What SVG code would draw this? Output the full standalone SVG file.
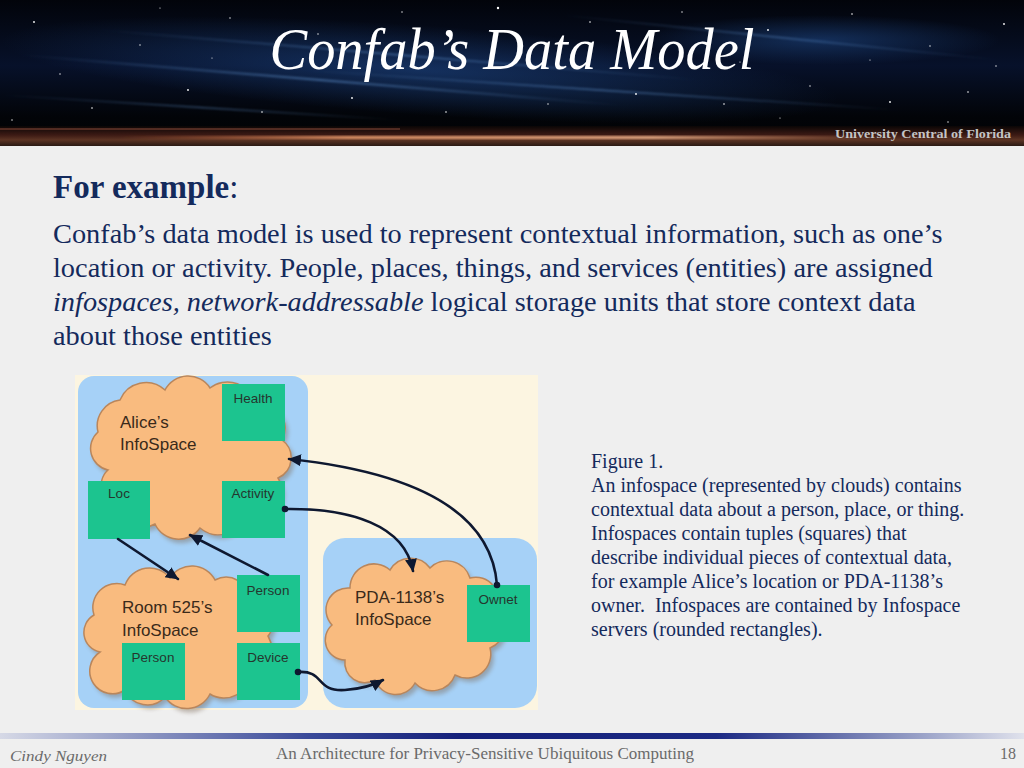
<svg xmlns="http://www.w3.org/2000/svg" width="1024" height="768" viewBox="0 0 1024 768">
<defs>
  <style>
    .body{font-family:"Liberation Serif","Times New Roman",serif;fill:#142a5c;}
    .para{font-size:28.35px;}
    .cap{font-family:"Liberation Serif","Times New Roman",serif;font-size:20px;fill:#142a5c;}
    .lbl{font-family:"Liberation Sans",Arial,sans-serif;font-size:13.5px;fill:#25362e;text-anchor:middle;}
    .cl{font-family:"Liberation Sans",Arial,sans-serif;font-size:17px;fill:#3a2a1a;}
    .cloud{fill:#f9bb7f;stroke:#b9865c;stroke-width:1.5;}
    .cshadow{fill:#7d6a5a;opacity:0.45;}
    .tuple{fill:#1cc48f;}
    .server{fill:#a6d1f7;}
    .conn{fill:none;stroke:#0e1830;stroke-width:2.6;stroke-linecap:round;}
    .star{fill:#ffffff;}
    .foot{font-family:"Liberation Serif","Times New Roman",serif;fill:#6a6a6a;}
  </style>
  <linearGradient id="sky" x1="0" y1="0" x2="0" y2="1">
    <stop offset="0" stop-color="#02040a"/>
    <stop offset="0.45" stop-color="#07112a"/>
    <stop offset="0.8" stop-color="#020408"/>
    <stop offset="1" stop-color="#010204"/>
  </linearGradient>
  <radialGradient id="haze" cx="0.5" cy="0.5" r="0.5">
    <stop offset="0" stop-color="#1f4a8a" stop-opacity="0.55"/>
    <stop offset="1" stop-color="#1f4a8a" stop-opacity="0"/>
  </radialGradient>
  <linearGradient id="streak" x1="0" y1="0" x2="1" y2="0">
    <stop offset="0" stop-color="#6aa0e0" stop-opacity="0"/>
    <stop offset="0.5" stop-color="#6aa0e0" stop-opacity="0.5"/>
    <stop offset="1" stop-color="#6aa0e0" stop-opacity="0"/>
  </linearGradient>
  <linearGradient id="band" x1="0" y1="0" x2="0" y2="1">
    <stop offset="0" stop-color="#0a0606"/>
    <stop offset="0.45" stop-color="#3c1a14"/>
    <stop offset="0.7" stop-color="#5c3424"/>
    <stop offset="1" stop-color="#2a1a14"/>
  </linearGradient>
  <linearGradient id="glow" x1="0" y1="0" x2="1" y2="0">
    <stop offset="0" stop-color="#e07040" stop-opacity="0"/>
    <stop offset="0.3" stop-color="#f0a070" stop-opacity="0.9"/>
    <stop offset="0.7" stop-color="#f6b890" stop-opacity="0.9"/>
    <stop offset="1" stop-color="#f0a070" stop-opacity="0"/>
  </linearGradient>
  <linearGradient id="footbar" x1="0" y1="0" x2="1" y2="0">
    <stop offset="0" stop-color="#d6d9e6"/>
    <stop offset="0.3" stop-color="#3a4a9a"/>
    <stop offset="0.45" stop-color="#14207a"/>
    <stop offset="0.7" stop-color="#1c2a84"/>
    <stop offset="0.9" stop-color="#9aa2c8"/>
    <stop offset="1" stop-color="#e0e2ec"/>
  </linearGradient>
  <filter id="blur2" x="-20%" y="-20%" width="140%" height="140%"><feGaussianBlur stdDeviation="2"/></filter>
  <filter id="blur1"><feGaussianBlur stdDeviation="0.8"/></filter>
  <marker id="arrow" markerUnits="userSpaceOnUse" markerWidth="14" markerHeight="14" refX="12" refY="6" orient="auto">
    <path d="M0,0 L13,6 L0,12 Z" fill="#0e1830"/>
  </marker>
  <marker id="dot" markerUnits="userSpaceOnUse" markerWidth="8" markerHeight="8" refX="4" refY="4" orient="auto">
    <circle cx="4" cy="4" r="3.3" fill="#0e1830"/>
  </marker>
</defs>

<!-- slide background -->
<rect x="0" y="0" width="1024" height="768" fill="#efefef"/>

<!-- header -->
<g id="header">
  <rect x="0" y="0" width="1024" height="146" fill="url(#sky)"/>
  <ellipse cx="420" cy="70" rx="420" ry="45" fill="url(#haze)" transform="rotate(4 420 70)"/>
  <ellipse cx="820" cy="40" rx="180" ry="25" fill="url(#haze)"/>
  <g filter="url(#blur1)">
    <line x1="20" y1="55" x2="620" y2="105" stroke="url(#streak)" stroke-width="2"/>
    <line x1="100" y1="30" x2="700" y2="80" stroke="url(#streak)" stroke-width="1.5"/>
    <line x1="300" y1="70" x2="900" y2="110" stroke="url(#streak)" stroke-width="1.5"/>
    <line x1="0" y1="95" x2="400" y2="120" stroke="url(#streak)" stroke-width="1.2"/>
    <line x1="560" y1="15" x2="1000" y2="60" stroke="url(#streak)" stroke-width="1.2"/>
  </g>
  <g class="star">
    <circle cx="34" cy="22" r="0.9"/><circle cx="92" cy="108" r="0.8"/><circle cx="140" cy="45" r="0.7"/>
    <circle cx="188" cy="90" r="0.9"/><circle cx="230" cy="18" r="0.7"/><circle cx="262" cy="112" r="0.8"/>
    <circle cx="318" cy="34" r="0.7"/><circle cx="352" cy="98" r="0.9"/><circle cx="402" cy="12" r="0.7"/>
    <circle cx="446" cy="112" r="0.8"/><circle cx="498" cy="8" r="1.2"/><circle cx="548" cy="104" r="0.7"/>
    <circle cx="590" cy="22" r="0.8"/><circle cx="636" cy="94" r="0.9"/><circle cx="682" cy="12" r="0.7"/>
    <circle cx="724" cy="104" r="0.8"/><circle cx="768" cy="30" r="0.9"/><circle cx="810" cy="86" r="0.7"/>
    <circle cx="852" cy="14" r="0.8"/><circle cx="890" cy="102" r="0.9"/><circle cx="930" cy="46" r="0.7"/>
    <circle cx="968" cy="92" r="0.8"/><circle cx="1004" cy="24" r="0.9"/><circle cx="996" cy="66" r="0.7"/>
    <circle cx="60" cy="74" r="0.7"/><circle cx="116" cy="132" r="0.6"/><circle cx="212" cy="58" r="0.6"/>
    <circle cx="780" cy="118" r="0.6"/><circle cx="948" cy="122" r="0.7"/><circle cx="870" cy="60" r="0.6"/>
    <circle cx="12" cy="120" r="0.7"/><circle cx="160" cy="8" r="0.6"/><circle cx="740" cy="62" r="0.6"/>
  </g>
  <rect x="0" y="126" width="1024" height="20" fill="url(#band)"/>
  <rect x="120" y="136" width="760" height="3" fill="url(#glow)" filter="url(#blur1)"/>
  <rect x="0" y="128" width="400" height="2" fill="#8a4a3a" opacity="0.5"/>
  <text x="512" y="69" text-anchor="middle" font-family="'Liberation Serif','Times New Roman',serif" font-style="italic" font-size="60" fill="#ffffff" textLength="485" lengthAdjust="spacingAndGlyphs">Confab’s Data Model</text>
  <text x="1011" y="138" text-anchor="end" font-family="'Liberation Serif','Times New Roman',serif" font-weight="bold" font-size="13" fill="#c4c4c4" textLength="176" lengthAdjust="spacingAndGlyphs">University Central of Florida</text>
</g>

<!-- body text -->
<g id="bodytext">
  <text x="53" y="198" class="body" font-size="33"><tspan font-weight="bold">For example</tspan>:</text>
  <text x="53" y="243" class="body para">Confab’s data model is used to represent contextual information, such as one’s</text>
  <text x="53" y="277" class="body para">location or activity. People, places, things, and services (entities) are assigned</text>
  <text x="53" y="311" class="body para"><tspan font-style="italic">infospaces, network-addressable</tspan> logical storage units that store context data</text>
  <text x="53" y="345" class="body para">about those entities</text>
</g>

<!-- figure background -->
<rect x="75" y="375" width="463" height="335" fill="#fcf5e1"/>

<!-- servers -->
<g id="server-left"><rect x="78" y="376" width="230" height="332" rx="16" class="server"/></g>
<g id="server-right"><rect x="323" y="538" width="214" height="170" rx="22" class="server"/></g>

<!-- Alice's InfoSpace -->
<g id="alice-infospace">
  <path class="cshadow" filter="url(#blur2)" transform="translate(3,4)" d="M108 470 A22 22 0 0 1 98 432 A26 26 0 0 1 120 400 A28 28 0 0 1 165 390 A26 26 0 0 1 210 388 A28 28 0 0 1 255 405 A24 24 0 0 1 282 440 A22 22 0 0 1 278 478 A26 26 0 0 1 245 515 A28 28 0 0 1 200 528 A26 26 0 0 1 155 524 A22 22 0 0 1 122 505 A20 20 0 0 1 108 470 Z"/>
  <path class="cloud" d="M108 470 A22 22 0 0 1 98 432 A26 26 0 0 1 120 400 A28 28 0 0 1 165 390 A26 26 0 0 1 210 388 A28 28 0 0 1 255 405 A24 24 0 0 1 282 440 A22 22 0 0 1 278 478 A26 26 0 0 1 245 515 A28 28 0 0 1 200 528 A26 26 0 0 1 155 524 A22 22 0 0 1 122 505 A20 20 0 0 1 108 470 Z"/>
  <text class="cl" x="120" y="428">Alice’s</text>
  <text class="cl" x="120" y="450">InfoSpace</text>
</g>
<g id="alice-health"><rect class="tuple" x="222" y="384" width="63" height="57"/><text class="lbl" x="253" y="403">Health</text></g>
<g id="alice-loc"><rect class="tuple" x="88" y="481" width="62" height="58"/><text class="lbl" x="119" y="498">Loc</text></g>
<g id="alice-activity"><rect class="tuple" x="222" y="481" width="63" height="57"/><text class="lbl" x="253" y="498">Activity</text></g>

<!-- Room 525's InfoSpace -->
<g id="room-infospace">
  <path class="cshadow" filter="url(#blur2)" transform="translate(3,4)" d="M100 652 A20 20 0 0 1 94 615 A24 24 0 0 1 125 585 A26 26 0 0 1 170 578 A26 26 0 0 1 215 580 A24 24 0 0 1 250 600 A22 22 0 0 1 268 636 A24 24 0 0 1 250 672 A26 26 0 0 1 210 694 A26 26 0 0 1 165 697 A24 24 0 0 1 125 690 A22 22 0 0 1 100 652 Z"/>
  <path class="cloud" d="M100 652 A20 20 0 0 1 94 615 A24 24 0 0 1 125 585 A26 26 0 0 1 170 578 A26 26 0 0 1 215 580 A24 24 0 0 1 250 600 A22 22 0 0 1 268 636 A24 24 0 0 1 250 672 A26 26 0 0 1 210 694 A26 26 0 0 1 165 697 A24 24 0 0 1 125 690 A22 22 0 0 1 100 652 Z"/>
  <text class="cl" x="122" y="613">Room 525’s</text>
  <text class="cl" x="122" y="636">InfoSpace</text>
</g>
<g id="room-person-top"><rect class="tuple" x="237" y="575" width="63" height="57"/><text class="lbl" x="268" y="595">Person</text></g>
<g id="room-person"><rect class="tuple" x="122" y="643" width="63" height="57"/><text class="lbl" x="153" y="662">Person</text></g>
<g id="room-device"><rect class="tuple" x="237" y="643" width="63" height="57"/><text class="lbl" x="268" y="662">Device</text></g>

<!-- PDA-1138's InfoSpace -->
<g id="pda-infospace">
  <path class="cshadow" filter="url(#blur2)" transform="translate(3,4)" d="M345 660 A20 20 0 0 1 332 625 A22 22 0 0 1 350 588 A24 24 0 0 1 390 570 A24 24 0 0 1 430 568 A24 24 0 0 1 470 578 A22 22 0 0 1 495 610 A22 22 0 0 1 490 648 A24 24 0 0 1 455 675 A24 24 0 0 1 415 683 A22 22 0 0 1 375 680 A20 20 0 0 1 345 660 Z"/>
  <path class="cloud" d="M345 660 A20 20 0 0 1 332 625 A22 22 0 0 1 350 588 A24 24 0 0 1 390 570 A24 24 0 0 1 430 568 A24 24 0 0 1 470 578 A22 22 0 0 1 495 610 A22 22 0 0 1 490 648 A24 24 0 0 1 455 675 A24 24 0 0 1 415 683 A22 22 0 0 1 375 680 A20 20 0 0 1 345 660 Z"/>
  <text class="cl" x="355" y="603">PDA-1138’s</text>
  <text class="cl" x="355" y="625">InfoSpace</text>
</g>
<g id="pda-owner"><rect class="tuple" x="467" y="585" width="63" height="57"/><text class="lbl" x="498" y="604">Ownet</text></g>

<!-- connectors -->
<g id="connectors">
  <path class="conn" marker-end="url(#arrow)" d="M118 539 L178 579"/>
  <path class="conn" marker-end="url(#arrow)" d="M268 575 L190 535"/>
  <path class="conn" marker-start="url(#dot)" marker-end="url(#arrow)" d="M497 585 C492 520 430 474 289 459"/>
  <path class="conn" marker-start="url(#dot)" marker-end="url(#arrow)" d="M285 509 C350 508 405 525 413 571"/>
  <path class="conn" marker-start="url(#dot)" marker-end="url(#arrow)" d="M298 672 C325 670 315 692 345 690 C360 689 372 686 383 680"/>
</g>

<!-- caption -->
<g id="caption">
  <text class="cap" x="591" y="468">Figure 1.</text>
  <text class="cap" x="591" y="492">An infospace (represented by clouds) contains</text>
  <text class="cap" x="591" y="516">contextual data about a person, place, or thing.</text>
  <text class="cap" x="591" y="540">Infospaces contain tuples (squares) that</text>
  <text class="cap" x="591" y="564">describe individual pieces of contextual data,</text>
  <text class="cap" x="591" y="588">for example Alice’s location or PDA-1138’s</text>
  <text class="cap" x="591" y="612">owner.&#160; Infospaces are contained by Infospace</text>
  <text class="cap" x="591" y="636">servers (rounded rectangles).</text>
</g>

<!-- footer -->
<g id="footer">
  <rect x="0" y="733" width="1024" height="6" fill="url(#footbar)"/>
  <text class="foot" x="10" y="761" font-size="15" font-style="italic" textLength="97" lengthAdjust="spacingAndGlyphs">Cindy Nguyen</text>
  <text class="foot" x="276" y="759" font-size="16" fill="#555555" textLength="418" lengthAdjust="spacingAndGlyphs">An Architecture for Privacy-Sensitive Ubiquitous Computing</text>
  <text class="foot" x="1016" y="759" font-size="16" text-anchor="end">18</text>
</g>
</svg>
